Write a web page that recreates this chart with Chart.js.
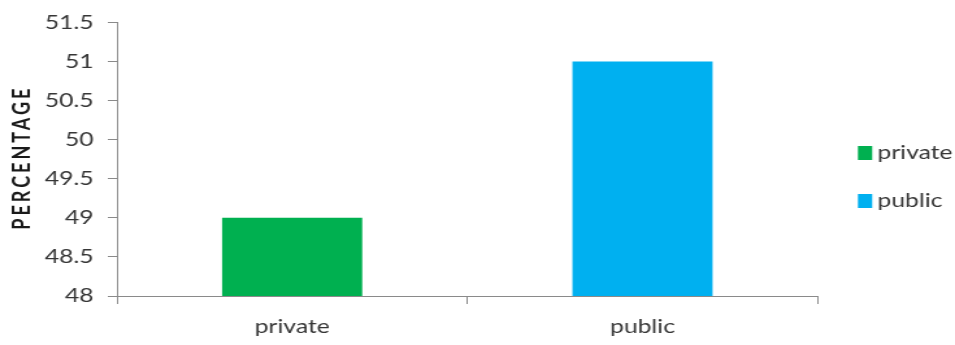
<!DOCTYPE html>
<html>
<head>
<meta charset="utf-8">
<script src="https://cdn.jsdelivr.net/npm/chart.js@4/dist/chart.umd.min.js"></script>
<style>
  html, body { margin: 0; padding: 0; background: #fff; overflow: hidden; }
  /* the chart is laid out narrow and widened horizontally to the page width */
  #wrap { width: 735px; height: 345px; transform: scaleX(1.29932); transform-origin: 0 0; }
  canvas { display: block; }
</style>
</head>
<body>
<div id="wrap"><canvas id="c" width="735" height="345"></canvas></div>
<script>
// Share of respondents by sector
const categories = ['private', 'public'];
const percentages = [49, 51];
const barColors = ['#00b050', '#00b0f0'];
const yTicks = [48, 48.5, 49, 49.5, 50, 50.5, 51, 51.5];
const yTitle = 'PERCENTAGE';

const FONT = 'Lato, "Open Sans", sans-serif';
const TEXT = '#363636';
const AXIS = '#8a8a8a';

// rotated, letter-spaced axis title drawn beside the y scale
const yTitlePlugin = {
  id: 'yTitle',
  afterDraw(chart) {
    const { ctx, chartArea } = chart;
    ctx.save();
    ctx.translate(chart.scales.y.left + 17.5, (chartArea.top + chartArea.bottom) / 2);
    ctx.rotate(-Math.PI / 2);
    ctx.font = 'bold 18px ' + FONT;
    ctx.letterSpacing = '3px';
    ctx.fillStyle = '#1a1a1a';
    ctx.textAlign = 'center';
    ctx.textBaseline = 'middle';
    ctx.fillText(yTitle, 1.5, 0);
    ctx.restore();
  }
};

// legend column to the right of the plot, one swatch per category
const sideLegendPlugin = {
  id: 'sideLegend',
  afterDraw(chart) {
    const { ctx, chartArea } = chart;
    const x = chartArea.right + 31;
    const mid = chart.height / 2 + 4.5;
    ctx.save();
    ctx.font = '19px ' + FONT;
    ctx.textBaseline = 'middle';
    ctx.textAlign = 'left';
    categories.forEach((name, i) => {
      const y = mid + (i - 0.5) * 48;
      ctx.fillStyle = barColors[i];
      ctx.fillRect(x, y - 7, 11, 14);
      ctx.fillStyle = TEXT;
      ctx.fillText(name, x + 15, y);
    });
    ctx.restore();
  }
};

new Chart(document.getElementById('c'), {
  type: 'bar',
  data: {
    labels: categories,
    datasets: [{
      label: yTitle,
      data: percentages,
      backgroundColor: barColors,
      borderWidth: 0,
      barPercentage: 0.4,
      categoryPercentage: 1.0
    }]
  },
  options: {
    responsive: false,
    animation: false,
    devicePixelRatio: 1,
    layout: { padding: { top: 9, right: 105.7, bottom: 0, left: 0 } },
    plugins: {
      tooltip: { enabled: false },
      legend: { display: false }
    },
    scales: {
      x: {
        afterFit: scale => { scale.height = 49; },
        border: { color: AXIS, width: 1 },
        grid: { drawOnChartArea: false, drawTicks: true, tickLength: 8, color: AXIS },
        ticks: { color: TEXT, font: { family: FONT, size: 19 }, padding: 11 }
      },
      y: {
        min: 48,
        max: 51.5,
        afterBuildTicks: axis => { axis.ticks = yTicks.map(v => ({ value: v })); },
        afterFit: scale => { scale.width = 90; },
        border: { color: AXIS, width: 1 },
        grid: { drawOnChartArea: false, drawTicks: true, tickLength: 7, color: AXIS },
        ticks: {
          color: TEXT,
          font: { family: FONT, size: 19 },
          padding: 11,
          callback: v => String(v)
        }
      }
    }
  },
  plugins: [yTitlePlugin, sideLegendPlugin]
});
</script>
</body>
</html>
